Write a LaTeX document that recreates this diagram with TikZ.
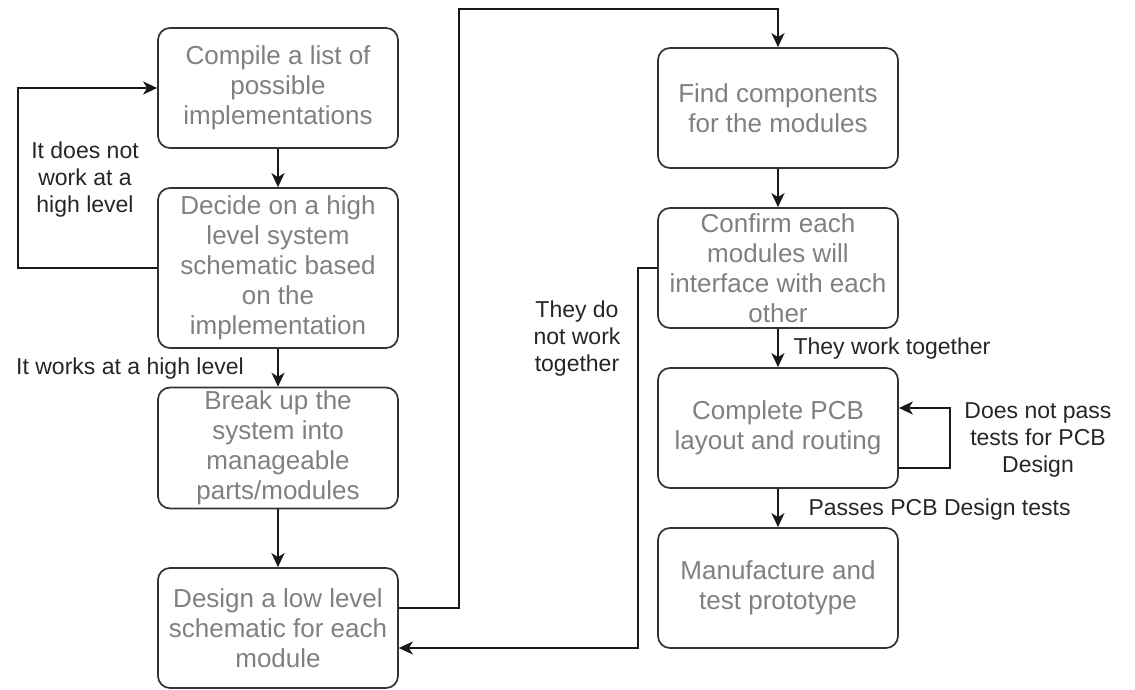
\documentclass[tikz,border=0pt]{standalone}
\usepackage{fontspec}
\setmainfont{Liberation Sans}
\usetikzlibrary{arrows.meta}

\begin{document}
\begin{tikzpicture}[x=1pt, y=-1pt,
	stage/.style = {draw=black!80, line width=1.7pt, rounded corners=12pt,
		minimum width=240pt, minimum height=120pt, align=center,
		text=black!50, font=\fontsize{26}{30}\selectfont},
	note/.style = {align=center, text=black!85, font=\fontsize{23}{27}\selectfont},
	flow/.style = {draw=black!90, line width=1.7pt, -{Stealth[length=14pt, width=13pt, inset=4pt]}}]
	\useasboundingbox (0,0) rectangle (1135,690);
	% left column
	\node[stage] (compile) at (278, 88) {Compile a list of\\possible\\implementations};
	\node[stage, minimum height=160pt] (decide) at (278, 268) {Decide on a high\\level system\\schematic based\\on the\\implementation};
	\node[stage] (breakup) at (278, 448) {Break up the\\system into\\manageable\\parts/modules};
	\node[stage] (design) at (278, 628) {Design a low level\\schematic for each\\module};
	% right column
	\node[stage] (find) at (778, 108) {Find components\\for the modules};
	\node[stage] (confirm) at (778, 268) {Confirm each\\modules will\\interface with each\\other};
	\node[stage] (pcb) at (778, 428) {Complete PCB\\layout and routing};
	\node[stage] (manuf) at (778, 588) {Manufacture and\\test prototype};
	%%%%%%%%%
	\coordinate (leftrun) at (18, 180);
	\coordinate (toprun) at (459, 9);
	\coordinate (backrun) at (638, 500);
	\coordinate (selfrun) at (950, 438);
	%%%%%%%%%
	\draw[flow] (compile) -- (decide);
	\draw[flow] (decide) -- (breakup);
	\draw[flow] (breakup) -- (design);
	\draw[flow] (decide.west) -| (leftrun) |- (compile.west);
	\draw[flow] ([yshift=20pt]design.east) -| (toprun) -| (find.north);
	\draw[flow] (find) -- (confirm);
	\draw[flow] (confirm) -- (pcb);
	\draw[flow] (confirm.west) -| (backrun) |- ([yshift=-20pt]design.east);
	\draw[flow] (pcb) -- (manuf);
	\draw[flow] ([yshift=-40pt]pcb.east) -| (selfrun) |- ([yshift=20pt]pcb.east);
	%%%%%%%%%
	\node[note] (nothigh) at (85, 180) {It does not\\work at a\\high level};
	\node[note] (works) at (130, 369) {It works at a high level};
	\node[note] (nottogether) at (577, 339) {They do\\not work\\together};
	\node[note, anchor=west] (together) at (790, 349) {They work together};
	\node[note] (notpass) at (1038, 440) {Does not pass\\tests for PCB\\Design};
	\node[note, anchor=west] (passes) at (805, 510) {Passes PCB Design tests};
\end{tikzpicture}
\end{document}
